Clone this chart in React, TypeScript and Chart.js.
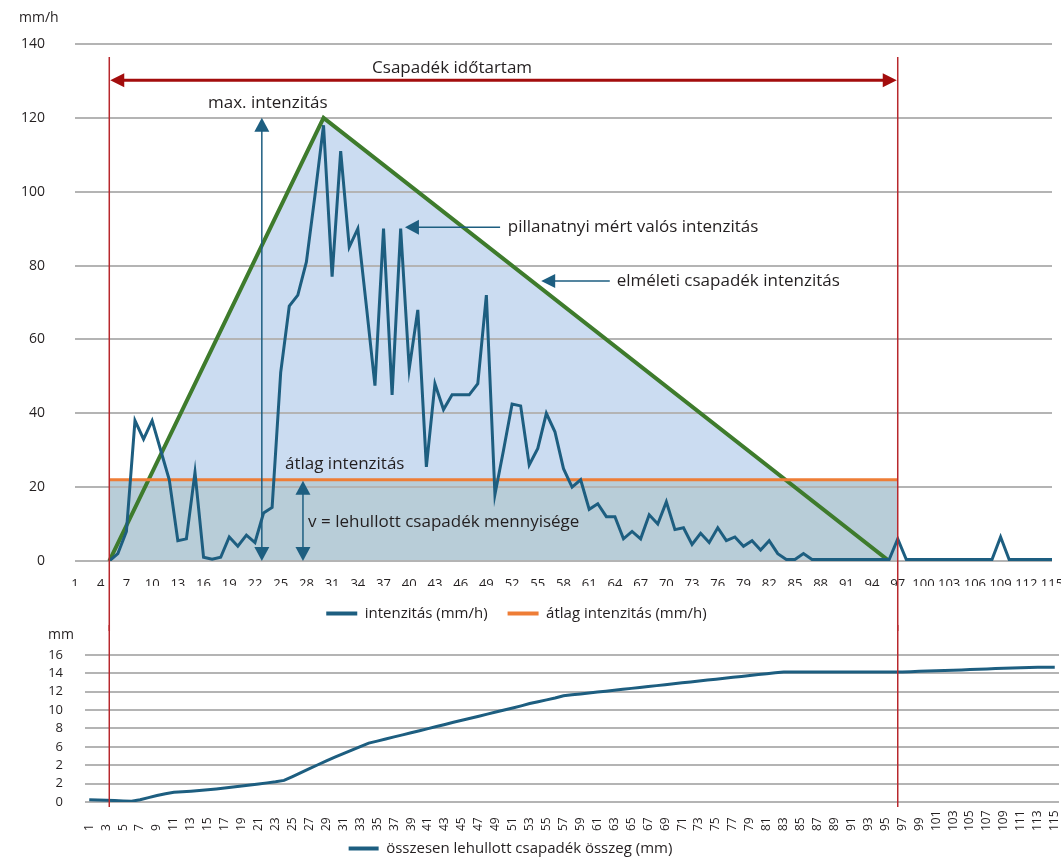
import React, { useEffect, useRef } from 'react';
import { Chart, registerables } from 'chart.js';

Chart.register(...registerables);

// ---------------- data ----------------
const timeLabels: string[] = Array.from({ length: 115 }, (_, i) => String(i + 1));

const intensity: (number | null)[] = [
  null, null, null, null, 0, 2, 8, 38, 33, 38,
  30, 22, 5.5, 6, 24, 1, 0.5, 1, 6.5, 4,
  7, 5, 13, 14.5, 51, 69, 72, 81, 99, 118,
  77, 111, 85, 90, 69, 47.5, 90, 45, 90, 52,
  68, 25.5, 48, 41, 45, 45, 45, 48, 72, 18,
  30, 42.5, 42, 26, 30.5, 40, 35, 25, 20, 22,
  14, 15.5, 12, 12, 6, 8, 6, 12.5, 10, 16,
  8.5, 9, 4.5, 7.5, 5, 9, 5.5, 6.5, 4, 5.5,
  3, 5.5, 2, 0.4, 0.4, 2, 0.4, 0.4, 0.4, 0.4,
  0.4, 0.4, 0.4, 0.4, 0.4, 0.4, 6, 0.4, 0.4, 0.4,
  0.4, 0.4, 0.4, 0.4, 0.4, 0.4, 0.4, 0.4, 6.5, 0.4,
  0.4, 0.4, 0.4, 0.4, 0.4,
];

const averageIntensity = 22;
const averageRange = ['5', '97'];

const theoreticalX = ['5', '30', '96'];
const theoreticalY = [0, 120, 0];

const durationRange = ['5', '97'];

const cumulative: number[] = [
  0.25, 0.22, 0.2, 0.15, 0.11, 0.08, 0.25, 0.48, 0.7, 0.9,
  1.05, 1.12, 1.18, 1.25, 1.33, 1.42, 1.52, 1.63, 1.74, 1.85,
  1.96, 2.08, 2.2, 2.35, 2.77, 3.2, 3.62, 4.05, 4.47, 4.87,
  5.26, 5.65, 6.03, 6.4, 6.62, 6.85, 7.08, 7.3, 7.52, 7.75,
  7.98, 8.2, 8.43, 8.66, 8.88, 9.1, 9.32, 9.55, 9.78, 10.0,
  10.22, 10.45, 10.7, 10.9, 11.1, 11.3, 11.55, 11.65, 11.75, 11.85,
  11.95, 12.05, 12.15, 12.25, 12.35, 12.45, 12.55, 12.65, 12.75, 12.85,
  12.95, 13.05, 13.15, 13.25, 13.35, 13.45, 13.55, 13.65, 13.75, 13.85,
  13.95, 14.05, 14.13, 14.13, 14.13, 14.13, 14.13, 14.13, 14.13, 14.13,
  14.13, 14.13, 14.13, 14.13, 14.13, 14.13, 14.13, 14.16, 14.2, 14.23,
  14.26, 14.3, 14.33, 14.36, 14.4, 14.43, 14.46, 14.5, 14.53, 14.56,
  14.6, 14.63, 14.66, 14.66, 14.66,
];

const topYMax = 140;
const topYStep = 20;
const bottomYMax = 16;
const bottomYStep = 2;
const bottomYTickLabels = ['0', '2', '2', '6', '8', '10', '12', '14', '16'];

// ---------------- style / layout ----------------
const FONT = '"Open Sans", "Noto Sans", sans-serif';
const BLUE = '#1d5e80';
const GREEN = '#3e7b2c';
const ORANGE = '#ee7d36';
const LIGHT_FILL = '#cbdcf1';
const DARK_FILL = '#b8cdd8';
const RED_LINE = '#b8282d';
const RED_ARROW = '#a30d0d';
const GRID = '#b4b4b4';
const TEXT = '#231f20';

const TOP_LEFT = -19;
const TOP_W = 1080;
const TOP_H = 631;
const BOT_LEFT = -38;
const BOT_TOP = 625;
const BOT_W = 1099;
const BOT_H = 241;

function head(ctx: CanvasRenderingContext2D, tx: number, ty: number, dx: number, dy: number, len: number, half: number) {
  const bx = tx - dx * len;
  const by = ty - dy * len;
  const px = -dy;
  const py = dx;
  ctx.beginPath();
  ctx.moveTo(tx, ty);
  ctx.lineTo(bx + px * half, by + py * half);
  ctx.lineTo(bx - px * half, by - py * half);
  ctx.closePath();
  ctx.fill();
}

export default function App() {
  const topRef = useRef<HTMLCanvasElement>(null);
  const botRef = useRef<HTMLCanvasElement>(null);

  useEffect(() => {
    const shared = { redX: [] as number[] };
    const durIdx = durationRange.map((l) => timeLabels.indexOf(l));

    const topPlugin = {
      id: 'topAnnotations',
      beforeDatasetsDraw(chart: any) {
        chart.scales.y.drawGrid(chart.chartArea);
      },
      afterDraw(chart: any) {
        const ctx: CanvasRenderingContext2D = chart.ctx;
        const xs = chart.scales.x;
        const ys = chart.scales.y;
        const X = (i: number) => xs.getPixelForValue(i);
        const Y = (v: number) => ys.getPixelForValue(v);
        ctx.save();
        ctx.fillStyle = TEXT;
        ctx.textBaseline = 'middle';
        ctx.textAlign = 'left';
        ctx.font = `14px ${FONT}`;
        ctx.fillText('mm/h', 19 - TOP_LEFT, 18);

        // red duration lines
        const xl = X(durIdx[0]);
        const xr = X(durIdx[1]);
        ctx.strokeStyle = RED_LINE;
        ctx.lineWidth = 1.5;
        [xl, xr].forEach((x) => {
          ctx.beginPath();
          ctx.moveTo(x, 57);
          ctx.lineTo(x, chart.height);
          ctx.stroke();
        });

        // duration arrow
        const ay = Y(130.2);
        ctx.strokeStyle = RED_ARROW;
        ctx.fillStyle = RED_ARROW;
        ctx.lineWidth = 3;
        ctx.beginPath();
        ctx.moveTo(xl + 10, ay);
        ctx.lineTo(xr - 10, ay);
        ctx.stroke();
        head(ctx, xl + 1, ay, -1, 0, 14, 7);
        head(ctx, xr - 1, ay, 1, 0, 14, 7);

        // blue arrows
        ctx.strokeStyle = BLUE;
        ctx.fillStyle = BLUE;
        ctx.lineWidth = 1.5;
        // max intensity arrow
        const mx = X(21.8);
        ctx.beginPath();
        ctx.moveTo(mx, Y(120) + 10);
        ctx.lineTo(mx, Y(0) - 10);
        ctx.stroke();
        head(ctx, mx, Y(120), 0, -1, 14, 7.5);
        head(ctx, mx, Y(0), 0, 1, 14, 7.5);
        // v arrow
        const vx = X(26.6);
        ctx.beginPath();
        ctx.moveTo(vx, Y(averageIntensity) + 10);
        ctx.lineTo(vx, Y(0) - 10);
        ctx.stroke();
        head(ctx, vx, Y(averageIntensity) + 1, 0, -1, 14, 7.5);
        head(ctx, vx, Y(0), 0, 1, 14, 7.5);
        // measured arrow
        const py = Y(90.4);
        ctx.beginPath();
        ctx.moveTo(X(49.6), py);
        ctx.lineTo(X(38.5) + 10, py);
        ctx.stroke();
        head(ctx, X(38.5), py, -1, 0, 14, 7.5);
        // theoretical arrow
        const ty = Y(75.8);
        ctx.beginPath();
        ctx.moveTo(X(62.4), ty);
        ctx.lineTo(X(54.4) + 10, ty);
        ctx.stroke();
        head(ctx, X(54.4), ty, -1, 0, 14, 7);

        // texts
        ctx.fillStyle = TEXT;
        ctx.font = `17px ${FONT}`;
        ctx.textAlign = 'center';
        ctx.fillText('Csapadék időtartam', X(44), Y(133.5));
        ctx.fillText('max. intenzitás', X(22.5), Y(124));
        ctx.textAlign = 'left';
        ctx.fillText('pillanatnyi mért valós intenzitás', X(50.5), Y(90.4));
        ctx.fillText('elméleti csapadék intenzitás', X(63.2), Y(75.8));
        ctx.fillText('átlag intenzitás', X(24.5), Y(26.3));
        ctx.fillText('v = lehullott csapadék mennyisége', X(27.2), Y(10.6));
        ctx.restore();
      },
    };

    const top = new Chart(topRef.current as HTMLCanvasElement, {
      type: 'line',
      data: {
        labels: timeLabels,
        datasets: [
          {
            label: 'intenzitás (mm/h)',
            data: intensity,
            borderColor: BLUE,
            backgroundColor: BLUE,
            borderWidth: 3,
            pointRadius: 0,
            fill: false,
            tension: 0,
          },
          {
            label: 'átlag intenzitás (mm/h)',
            data: averageRange.map((x) => ({ x, y: averageIntensity })),
            borderColor: ORANGE,
            backgroundColor: DARK_FILL,
            borderWidth: 3,
            pointRadius: 0,
            fill: 'origin',
          },
          {
            label: 'elméleti csapadék intenzitás',
            data: theoreticalX.map((x, i) => ({ x, y: theoreticalY[i] })),
            borderColor: GREEN,
            backgroundColor: LIGHT_FILL,
            borderWidth: 4,
            pointRadius: 0,
            fill: 'origin',
          },
        ] as any,
      },
      options: {
        responsive: false,
        animation: false,
        layout: { padding: { top: 44, right: 9, bottom: 0, left: 0 } },
        font: { family: FONT },
        scales: {
          x: {
            type: 'category',
            offset: false,
            grid: { display: false },
            border: { display: false },
            ticks: {
              autoSkip: false,
              maxRotation: 0,
              minRotation: 0,
              padding: 7,
              color: TEXT,
              font: { family: FONT, size: 13 },
              callback: (_v: any, i: number) => (i % 3 === 0 ? timeLabels[i] : ''),
            },
            afterFit: (s: any) => {
              s.height = 25;
              s.paddingLeft = 0;
              s.paddingRight = 0;
            },
          },
          y: {
            min: 0,
            max: topYMax,
            grid: { color: GRID, lineWidth: 2, drawTicks: false },
            border: { display: false },
            ticks: {
              stepSize: topYStep,
              autoSkip: false,
              padding: 30,
              color: TEXT,
              font: { family: FONT, size: 14 },
            },
            afterFit: (s: any) => {
              s.width = 94;
            },
          },
        },
        plugins: {
          filler: { drawTime: 'beforeDatasetsDraw' },
          tooltip: { enabled: false },
          legend: {
            position: 'bottom',
            labels: {
              boxWidth: 31,
              boxHeight: 4,
              padding: 20,
              color: TEXT,
              font: { family: FONT, size: 15 },
              generateLabels: (chart: any) =>
                chart.data.datasets.slice(0, 2).map((ds: any, i: number) => ({
                  text: ds.label,
                  fillStyle: ds.borderColor,
                  strokeStyle: ds.borderColor,
                  lineWidth: 0,
                  hidden: false,
                  datasetIndex: i,
                  fontColor: TEXT,
                })),
            },
          },
        },
      } as any,
      plugins: [topPlugin],
    });

    shared.redX = durIdx.map((i) => top.scales.x.getPixelForValue(i) + TOP_LEFT);

    const botPlugin = {
      id: 'bottomAnnotations',
      afterDraw(chart: any) {
        const ctx: CanvasRenderingContext2D = chart.ctx;
        const xs = chart.scales.x;
        ctx.save();
        ctx.fillStyle = TEXT;
        ctx.font = `14px ${FONT}`;
        ctx.textAlign = 'left';
        ctx.textBaseline = 'middle';
        ctx.fillText('mm', 48 - BOT_LEFT, 10);

        // rotated category labels
        ctx.font = `12px ${FONT}`;
        timeLabels.forEach((lab, i) => {
          if (i % 2 !== 0) return;
          const x = xs.getPixelForValue(i);
          ctx.save();
          ctx.translate(x, 206);
          ctx.rotate(-Math.PI / 2);
          ctx.fillText(lab, 0, 0);
          ctx.restore();
        });

        ctx.strokeStyle = RED_LINE;
        ctx.lineWidth = 1.5;
        shared.redX.forEach((px) => {
          const x = px - BOT_LEFT;
          ctx.beginPath();
          ctx.moveTo(x, 0);
          ctx.lineTo(x, 182);
          ctx.stroke();
        });
        ctx.restore();
      },
    };

    const bot = new Chart(botRef.current as HTMLCanvasElement, {
      type: 'line',
      data: {
        labels: timeLabels,
        datasets: [
          {
            label: 'összesen lehullott csapadék összeg (mm)',
            data: cumulative,
            borderColor: BLUE,
            backgroundColor: BLUE,
            borderWidth: 3,
            pointRadius: 0,
            fill: false,
            tension: 0,
          },
        ],
      },
      options: {
        responsive: false,
        animation: false,
        layout: { padding: { top: 26, right: 2, bottom: 0, left: 0 } },
        scales: {
          x: {
            type: 'category',
            offset: true,
            grid: { display: false },
            border: { display: false },
            ticks: { display: false },
            afterFit: (s: any) => {
              s.height = 29;
              s.paddingLeft = 0;
              s.paddingRight = 0;
            },
          },
          y: {
            min: 0,
            max: bottomYMax,
            grid: { color: GRID, lineWidth: 2, drawTicks: false },
            border: { display: false },
            ticks: {
              stepSize: bottomYStep,
              autoSkip: false,
              padding: 22,
              color: TEXT,
              font: { family: FONT, size: 13 },
              callback: (_v: any, i: number) => bottomYTickLabels[i],
            },
            afterFit: (s: any) => {
              s.width = 123;
            },
          },
        },
        plugins: {
          tooltip: { enabled: false },
          legend: {
            position: 'bottom',
            labels: {
              boxWidth: 30,
              boxHeight: 4,
              padding: 10,
              color: TEXT,
              font: { family: FONT, size: 15 },
              generateLabels: (chart: any) =>
                chart.data.datasets.map((ds: any, i: number) => ({
                  text: ds.label,
                  fillStyle: ds.borderColor,
                  strokeStyle: ds.borderColor,
                  lineWidth: 0,
                  hidden: false,
                  datasetIndex: i,
                  fontColor: TEXT,
                })),
            },
          },
        },
      } as any,
      plugins: [botPlugin],
    });

    return () => {
      top.destroy();
      bot.destroy();
    };
  }, []);

  return (
    <div
      style={{
        position: 'absolute',
        left: 0,
        top: 0,
        width: 1061,
        height: 857,
        overflow: 'hidden',
        background: '#ffffff',
      }}
    >
      <canvas
        ref={topRef}
        width={TOP_W}
        height={TOP_H}
        style={{ position: 'absolute', left: TOP_LEFT, top: 0, width: TOP_W, height: TOP_H }}
      />
      <canvas
        ref={botRef}
        width={BOT_W}
        height={BOT_H}
        style={{ position: 'absolute', left: BOT_LEFT, top: BOT_TOP, width: BOT_W, height: BOT_H }}
      />
    </div>
  );
}
